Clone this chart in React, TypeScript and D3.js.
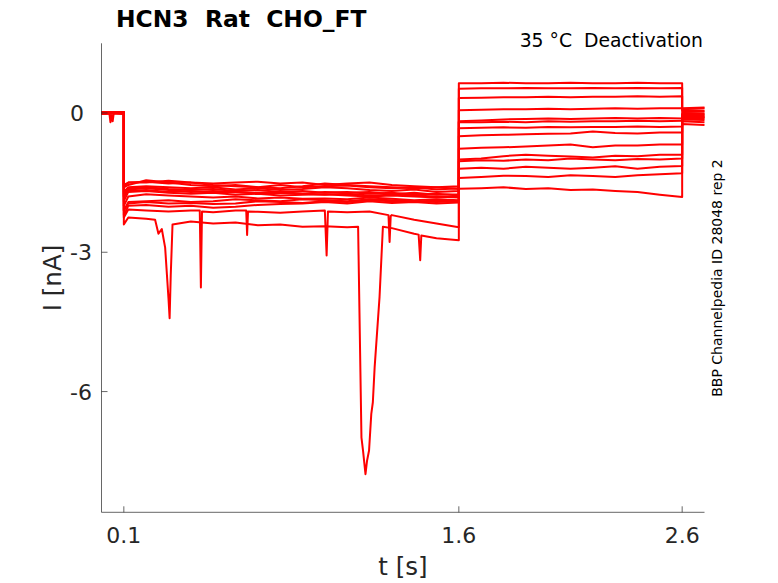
import React from "react";
import * as d3 from "d3";

// ---- data (nA vs s) ----
const xTicks = [0.1, 1.6, 2.6];
const yTicks = [0, -3, -6];
const xDomain = [0, 2.7];
const yDomain = [-8.6, 1.5];

const baseTimes = [0, 0.1];
const preTimes = [0.1, 0.12, 0.2, 0.3, 0.4, 0.5, 0.6, 0.7, 0.8, 0.9, 1.0, 1.1, 1.2, 1.3, 1.4, 1.5, 1.6];
const testTimes = [1.6, 1.7, 1.8, 1.9, 2.0, 2.1, 2.2, 2.3, 2.4, 2.5, 2.6];
const tailTimes = [2.6, 2.7];

const baseValues = [
  [0.01, 0.0], [0.0, 0.02], [-0.01, 0.01], [0.02, 0.0], [0.0, -0.02], [0.01, 0.01], [-0.02, 0.0],
  [0.0, 0.01], [0.02, -0.01], [-0.01, 0.02], [0.01, -0.01], [0.0, 0.0], [-0.02, 0.01], [0.01, 0.02],
];

const preValues = [
  [-1.55, -1.5, -1.48, -1.52, -1.5, -1.55, -1.58, -1.6, -1.55, -1.6, -1.58, -1.56, -1.6, -1.62, -1.6, -1.65, -1.62],
  [-1.7, -1.6, -1.58, -1.6, -1.62, -1.6, -1.65, -1.62, -1.66, -1.64, -1.6, -1.62, -1.66, -1.68, -1.65, -1.7, -1.68],
  [-1.8, -1.65, -1.62, -1.66, -1.7, -1.68, -1.7, -1.72, -1.7, -1.74, -1.7, -1.72, -1.7, -1.75, -1.72, -1.76, -1.75],
  [-1.9, -1.7, -1.68, -1.72, -1.74, -1.72, -1.76, -1.74, -1.78, -1.76, -1.75, -1.78, -1.8, -1.78, -1.8, -1.82, -1.8],
  [-1.6, -1.55, -1.45, -1.5, -1.55, -1.58, -1.55, -1.6, -1.62, -1.58, -1.52, -1.55, -1.58, -1.6, -1.62, -1.6, -1.64],
  [-2.0, -1.8, -1.75, -1.78, -1.8, -1.82, -1.8, -1.84, -1.82, -1.85, -1.84, -1.86, -1.82, -1.85, -1.88, -1.86, -1.88],
  [-1.75, -1.62, -1.6, -1.64, -1.66, -1.64, -1.68, -1.66, -1.7, -1.68, -1.72, -1.7, -1.74, -1.72, -1.76, -1.74, -1.78],
  [-2.1, -1.92, -1.9, -1.88, -1.92, -1.9, -1.86, -1.88, -1.9, -1.86, -1.88, -1.9, -1.86, -1.88, -1.9, -1.92, -1.9],
  [-1.8, -1.68, -1.66, -1.7, -1.68, -1.72, -1.7, -1.74, -1.72, -1.74, -1.76, -1.74, -1.78, -1.76, -1.78, -1.8, -1.82],
  [-2.2, -2.0, -1.98, -2.02, -2.0, -2.04, -2.02, -1.98, -1.96, -1.95, -1.92, -1.95, -1.9, -1.94, -1.92, -1.95, -1.93],
  [-1.6, -1.5, -1.5, -1.46, -1.5, -1.52, -1.5, -1.48, -1.52, -1.5, -1.55, -1.52, -1.5, -1.55, -1.58, -1.6, -1.58],
  [-2.25, -2.08, -2.1, -2.12, -2.1, -2.14, -2.1, -2.13, -2.15, -2.12, -2.1, -2.14, -2.12, -2.2, -2.3, -2.38, -2.46],
  [-2.4, -2.25, -2.28, -2.3, -2.34, -2.38, -2.36, -2.42, -2.4, -2.45, -2.44, -2.46, -2.45, -2.48, -2.6, -2.7, -2.74],
  [-2.1, -1.95, -1.92, -1.95, -1.94, -1.96, -1.95, -1.9, -1.92, -1.94, -1.9, -1.92, -1.88, -1.9, -1.92, -1.88, -1.9],
];

const testValues = [
  [0.64, 0.64, 0.65, 0.64, 0.64, 0.65, 0.64, 0.64, 0.65, 0.64, 0.64],
  [0.52, 0.53, 0.53, 0.54, 0.53, 0.53, 0.54, 0.53, 0.54, 0.53, 0.54],
  [0.32, 0.33, 0.34, 0.34, 0.35, 0.34, 0.35, 0.35, 0.36, 0.35, 0.36],
  [0.06, 0.07, 0.08, 0.08, 0.09, 0.08, 0.09, 0.1, 0.09, 0.1, 0.1],
  [-0.18, -0.16, -0.14, -0.13, -0.12, -0.13, -0.12, -0.11, -0.12, -0.11, -0.12],
  [-0.2, -0.2, -0.19, -0.2, -0.18, -0.19, -0.18, -0.18, -0.17, -0.18, -0.17],
  [-0.33, -0.32, -0.31, -0.32, -0.3, -0.31, -0.3, -0.3, -0.29, -0.3, -0.29],
  [-0.5, -0.48, -0.47, -0.46, -0.45, -0.44, -0.4, -0.43, -0.44, -0.42, -0.42],
  [-0.77, -0.75, -0.74, -0.72, -0.7, -0.68, -0.74, -0.7, -0.7, -0.68, -0.68],
  [-1.0, -0.98, -0.93, -0.9, -0.92, -0.94, -0.96, -0.92, -0.93, -0.9, -0.9],
  [-1.04, -1.02, -1.03, -1.0, -1.02, -0.98, -1.0, -1.02, -0.99, -1.0, -0.98],
  [-1.2, -1.18, -1.2, -1.16, -1.18, -1.2, -1.18, -1.15, -1.2, -1.16, -1.14],
  [-1.4, -1.38, -1.35, -1.36, -1.38, -1.34, -1.36, -1.38, -1.34, -1.32, -1.3],
  [-1.63, -1.62, -1.6, -1.64, -1.62, -1.66, -1.65, -1.68, -1.7, -1.76, -1.81],
];

const tailValues = [
  [0.1, 0.12], [0.08, 0.1], [0.06, 0.05], [0.02, 0.03], [0.0, -0.01], [-0.02, -0.03], [-0.04, -0.05],
  [-0.06, -0.07], [-0.08, -0.09], [-0.12, -0.12], [-0.1, -0.1], [-0.14, -0.15], [-0.18, -0.2], [-0.24, -0.26],
];

// transient events: trace index and [time, value] points
const spikeTrace = [0, 12, 11, 11, 11, 12, 11, 12];
const spikePoints: [number, number][][] = [
  [[0.035, 0.0], [0.04, -0.2], [0.045, -0.05], [0.05, -0.18], [0.055, 0.0]],
  [[0.24, -2.3], [0.255, -2.6], [0.27, -2.5], [0.285, -2.9], [0.3, -4.0], [0.305, -4.42], [0.31, -3.5], [0.318, -2.4]],
  [[0.44, -2.1], [0.445, -3.76], [0.45, -2.12]],
  [[0.648, -2.1], [0.652, -2.63], [0.656, -2.12]],
  [[1.0, -2.1], [1.008, -3.07], [1.014, -2.12]],
  [[1.149, -2.45], [1.164, -6.99], [1.171, -7.27], [1.182, -7.78], [1.189, -7.49], [1.198, -7.27],
   [1.208, -6.48], [1.215, -6.23], [1.223, -5.48], [1.245, -3.96], [1.26, -2.45]],
  [[1.285, -2.2], [1.29, -2.78], [1.295, -2.22]],
  [[1.42, -2.62], [1.427, -3.17], [1.432, -2.64]],
];

const titleText = "HCN3  Rat  CHO_FT";
const conditionText = "35 °C  Deactivation";
const sideText = "BBP Channelpedia ID 28048 rep 2";

// ---- layout ----
const W = 778, H = 583;
const left = 101.5, right = 704.5, top = 43.3, bottom = 512.3;

export default function App() {
  const x = d3.scaleLinear().domain(xDomain).range([left, right]);
  const y = d3.scaleLinear().domain(yDomain).range([bottom, top]);
  const line = d3.line<[number, number]>().x((d) => x(d[0])).y((d) => y(d[1]));

  const traces = preValues.map((pre, i) => {
    const groups = spikePoints.filter((_, k) => spikeTrace[k] === i);
    const inside = (t: number) =>
      groups.some((g) => t >= g[0][0] && t <= g[g.length - 1][0]);
    const extra = groups.flat();
    const base: [number, number][] = baseTimes.map((t, j) => [t, baseValues[i][j]]);
    const b = [...base.filter((p) => !inside(p[0])), ...extra.filter((p) => p[0] < 0.1)].sort((a, c) => a[0] - c[0]);
    const preAll: [number, number][] = preTimes.map((t, j) => [t, pre[j]]);
    const first = preAll[0];
    const rest = [
      ...preAll.slice(1).filter((p) => !inside(p[0])),
      ...extra.filter((p) => p[0] >= 0.1),
    ].sort((a, c) => a[0] - c[0]);
    const tst: [number, number][] = testTimes.map((t, j) => [t, testValues[i][j]]);
    const tl: [number, number][] = tailTimes.map((t, j) => [t, tailValues[i][j]]);
    return [...b, first, ...rest, ...tst, ...tl];
  });

  const axisColor = "#262626";
  const font = "DejaVu Sans, sans-serif";

  return (
    <svg width={W} height={H} style={{ position: "absolute", left: 0, top: 0, background: "#fff" }}>
      <rect x={0} y={0} width={W} height={H} fill="#fff" />
      {traces.map((pts, i) => (
        <path key={i} d={line(pts) || ""} fill="none" stroke="#ff0000" strokeWidth={2} strokeLinejoin="round" />
      ))}
      {/* axes */}
      <line x1={left} x2={left} y1={top} y2={bottom} stroke={axisColor} strokeOpacity={0.7} strokeWidth={1} />
      <line x1={left} x2={right} y1={bottom} y2={bottom} stroke={axisColor} strokeOpacity={0.7} strokeWidth={1} />
      {xTicks.map((t) => (
        <g key={"x" + t}>
          <line x1={x(t)} x2={x(t)} y1={bottom} y2={bottom - 6} stroke={axisColor} strokeOpacity={0.7} />
          <text x={x(t)} y={543} textAnchor="middle" fontFamily={font} fontSize={22} fill={axisColor}>
            {String(t)}
          </text>
        </g>
      ))}
      {yTicks.map((t) => (
        <g key={"y" + t}>
          <line x1={left} x2={left + 6} y1={y(t)} y2={y(t)} stroke={axisColor} strokeOpacity={0.7} />
          <text x={70} y={y(t) + 8} textAnchor="start" fontFamily={font} fontSize={22} fill={axisColor}>
            {t === 0 ? "0" : "-" + String(Math.abs(t))}
          </text>
        </g>
      ))}
      <text x={(left + right) / 2} y={575} textAnchor="middle" fontFamily={font} fontSize={24.5} fill={axisColor}>
        t [s]
      </text>
      <text
        transform={`translate(61,278) rotate(-90)`}
        textAnchor="middle"
        fontFamily={font}
        fontSize={24.5}
        fill={axisColor}
      >
        I [nA]
      </text>
      <text x={116} y={27} fontFamily={font} fontWeight="bold" fontSize={23.4} fill="#000" style={{ whiteSpace: "pre" }}>
        {titleText}
      </text>
      <text x={703} y={47} textAnchor="end" fontFamily={font} fontSize={18.8} fill="#000" style={{ whiteSpace: "pre" }}>
        {conditionText}
      </text>
      <text
        transform={`translate(722,278) rotate(-90)`}
        textAnchor="middle"
        fontFamily={font}
        fontSize={14}
        fill="#000"
      >
        {sideText}
      </text>
    </svg>
  );
}
